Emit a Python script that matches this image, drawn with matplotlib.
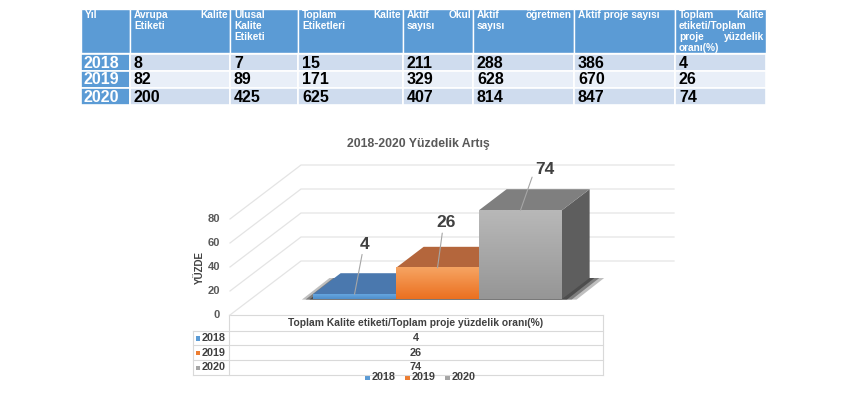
import numpy as np
import matplotlib
matplotlib.use('Agg')
import matplotlib.pyplot as plt
from matplotlib.patches import Rectangle, Polygon
from matplotlib.colors import LinearSegmentedColormap

plt.rcParams['font.family'] = ['Liberation Sans', 'DejaVu Sans']

# table data
years = ['2018', '2019', '2020']
avrupa = [8, 82, 200]
ulusal = [7, 89, 425]
toplam = [15, 171, 625]
okul = [211, 329, 407]
ogretmen = [288, 628, 814]
proje = [386, 670, 847]
oran = [4, 26, 74]

# header lines, a tuple is a justified line (left word, right word)
headers = [
    ['Yıl'],
    [('Avrupa', 'Kalite'), 'Etiketi'],
    ['Ulusal', 'Kalite', 'Etiketi'],
    [('Toplam', 'Kalite'), 'Etiketleri'],
    [('Aktif', 'Okul'), 'sayısı'],
    [('Aktif', 'öğretmen'), 'sayısı'],
    ['Aktif proje sayısı'],
    [('Toplam', 'Kalite'), 'etiketi/Toplam', ('proje', 'yüzdelik'), 'oranı(%)'],
]

chart_title = '2018-2020 Yüzdelik Artış'
category = 'Toplam Kalite etiketi/Toplam proje yüzdelik oranı(%)'
y_ticks = [0, 20, 40, 60, 80]

# styles
key_colors = ['#5B9BD5', '#ED7D31', '#A5A5A5']
front_grad = [('#4F8FCB', '#66A6E0'), ('#EB7020', '#F6A462'), ('#969696', '#B8B8B8')]
top_colors = ['#4A78AE', '#B4663C', '#7F7F7F']
side_colors = ['#3B6394', '#9C5228', '#5E5E5E']
label_offsets_px = [(10, 50), (9, 45), (24, 41)]
label_relpos = [(0.3, 0.0), (0.3, 0.0), (0.0, 0.5)]

fig = plt.figure(figsize=(8.5, 4), dpi=100)

# layout axes in pixel coordinates (for tables, title, legend)
lay = fig.add_axes([0, 0, 1, 1])
lay.set_xlim(0, 850)
lay.set_ylim(400, 0)
lay.axis('off')

# ---- top table ----
col_edges = [81, 130, 230, 298, 403, 473, 574, 675, 766]
head_top, head_bot = 9, 53
row_edges = [(54, 71), (71, 88), (88, 105)]
row_fill = ['#CFDCEE', '#E9EFF8', '#CFDCEE']
head_blue = '#5B9BD5'

for c in range(len(col_edges) - 1):
    x0, x1 = col_edges[c], col_edges[c + 1]
    lay.add_patch(Rectangle((x0, head_top), x1 - x0, head_bot - head_top,
                            facecolor=head_blue, edgecolor='white', lw=1))
    for k, line in enumerate(headers[c]):
        yy = head_top + 6 + k * 11
        if isinstance(line, tuple):
            lay.text(x0 + 4, yy, line[0], color='white', fontsize=7.3,
                     fontweight='bold', ha='left', va='center')
            lay.text(x1 - 2, yy, line[1], color='white', fontsize=7.3,
                     fontweight='bold', ha='right', va='center')
        else:
            lay.text(x0 + 4, yy, line, color='white', fontsize=7.3,
                     fontweight='bold', ha='left', va='center')

columns = [avrupa, ulusal, toplam, okul, ogretmen, proje, oran]
for r, (y0, y1) in enumerate(row_edges):
    lay.add_patch(Rectangle((col_edges[0], y0), col_edges[1] - col_edges[0], y1 - y0,
                            facecolor=head_blue, edgecolor='white', lw=1.2))
    lay.text(col_edges[0] + 3, (y0 + y1) / 2 + 0.5, years[r], color='white',
             fontsize=11.5, fontweight='bold', ha='left', va='center')
    for c, col in enumerate(columns):
        x0, x1 = col_edges[c + 1], col_edges[c + 2]
        lay.add_patch(Rectangle((x0, y0), x1 - x0, y1 - y0,
                                facecolor=row_fill[r], edgecolor='white', lw=1.2))
        lay.text(x0 + 4, (y0 + y1) / 2 + 0.5, str(col[r]), color='black',
                 fontsize=11.5, fontweight='bold', ha='left', va='center')

# ---- chart title / axis title ----
lay.text(418, 144, chart_title, ha='center', va='center', fontsize=8.8,
         fontweight='bold', color='#595959')
lay.text(200, 268, 'YÜZDE', rotation=90, ha='center', va='center', fontsize=7,
         fontweight='bold', color='#404040')

# ---- pseudo 3d chart axes ----
L, R, T, B = 180, 700, 120, 322
X0, XS = 230, 373.0     # pixel of x=0 and pixels per x unit
Y0, YS = 315, 1.2       # pixel of value 0 and pixels per value unit
ax = fig.add_axes([L / 850, 1 - B / 400, (R - L) / 850, (B - T) / 400])
ax.axis('off')

DX, DY = 71 / XS, 54 / YS   # full depth offset
d_front, d_back = 0.296, 0.685

grid_c = '#E4E4E4'
for v in y_ticks:
    ax.plot([0, DX, 1 + DX], [v, v + DY, v + DY], color=grid_c, lw=0.9, zorder=1)
    ax.text(-0.027, v, str(v), ha='right', va='center', fontsize=8,
            fontweight='bold', color='#595959')

n = len(oran)
bw = 0.2225
start = 0.5 - n * bw / 2
ddx = (d_back - d_front) * DX
ddy = (d_back - d_front) * DY
base = d_front * DY

# shadow under the bars
fx0 = start + d_front * DX
fx1 = start + n * bw + d_front * DX
for grow, alpha in [(0.03, 0.3), (0.02, 0.45), (0.01, 0.6)]:
    shadow = Polygon([(fx0 - grow, base - 0.5), (fx1 + grow * 1.3, base - 0.5),
                      (fx1 + ddx + grow * 1.3, base + ddy), (fx0 + ddx - grow, base + ddy)],
                     closed=True, facecolor='#2E2E2E', edgecolor='none', alpha=alpha, zorder=2)
    ax.add_patch(shadow)

for i, v in enumerate(oran):
    xl = start + i * bw + d_front * DX
    z = 3 + i
    side = Polygon([(xl + bw, base), (xl + bw, base + v), (xl + bw + ddx, base + v + ddy),
                    (xl + bw + ddx, base + ddy)], closed=True, facecolor=side_colors[i],
                   edgecolor='none', zorder=z)
    ax.add_patch(side)
    top = Polygon([(xl, base + v), (xl + bw, base + v), (xl + bw + ddx, base + v + ddy),
                   (xl + ddx, base + v + ddy)], closed=True, facecolor=top_colors[i],
                  edgecolor='none', zorder=z)
    ax.add_patch(top)
    cmap = LinearSegmentedColormap.from_list('f%d' % i, list(front_grad[i]))
    ax.imshow(np.linspace(0, 1, 64).reshape(-1, 1), extent=(xl, xl + bw, base, base + v),
              origin='lower', cmap=cmap, aspect='auto', zorder=z + 0.5, interpolation='bilinear')

    ox, oy = label_offsets_px[i]
    ax.annotate(str(v), xy=(xl + bw / 2, base + v), xytext=(ox * 0.72, oy * 0.72),
                textcoords='offset points', ha='center', va='center', fontsize=12.5,
                fontweight='bold', color='#404040', zorder=10,
                arrowprops=dict(arrowstyle='-', color='#A6A6A6', lw=0.8,
                                shrinkA=0, shrinkB=0, relpos=label_relpos[i]))

ax.set_xlim((L - X0) / XS, (R - X0) / XS)
ax.set_ylim((Y0 - B) / YS, (Y0 - T) / YS)

# ---- data table under the chart ----
tx0, tx1, tl = 229, 603, 193
ty = [315, 331, 345, 360, 375]
lc = '#D9D9D9'
lay.plot([tx0, tx1], [ty[0], ty[0]], color=lc, lw=0.8)
for yy in ty[1:]:
    lay.plot([tl, tx1], [yy, yy], color=lc, lw=0.8)
lay.plot([tx0, tx0], [ty[0], ty[-1]], color=lc, lw=0.8)
lay.plot([tx1, tx1], [ty[0], ty[-1]], color=lc, lw=0.8)
lay.plot([tl, tl], [ty[1], ty[-1]], color=lc, lw=0.8)

lay.text((tx0 + tx1) / 2, (ty[0] + ty[1]) / 2, category, ha='center', va='center',
         fontsize=7.4, fontweight='bold', color='#404040')
for r in range(n):
    yc = (ty[r + 1] + ty[r + 2]) / 2
    lay.add_patch(Rectangle((196, yc - 2), 4.5, 4.5, facecolor=key_colors[r], edgecolor='none'))
    lay.text(202, yc, years[r], ha='left', va='center', fontsize=7.8,
             fontweight='bold', color='#404040')
    lay.text((tx0 + tx1) / 2, yc, str(oran[r]), ha='center', va='center', fontsize=7.8,
             fontweight='bold', color='#404040')

# ---- legend ----
for r in range(n):
    lx = 365 + 40 * r
    lay.add_patch(Rectangle((lx, 375), 5, 5, facecolor=key_colors[r], edgecolor='none'))
    lay.text(lx + 7, 377.5, years[r], ha='left', va='center', fontsize=7.8,
             fontweight='bold', color='#404040')

fig.savefig('out.png', dpi=100)
